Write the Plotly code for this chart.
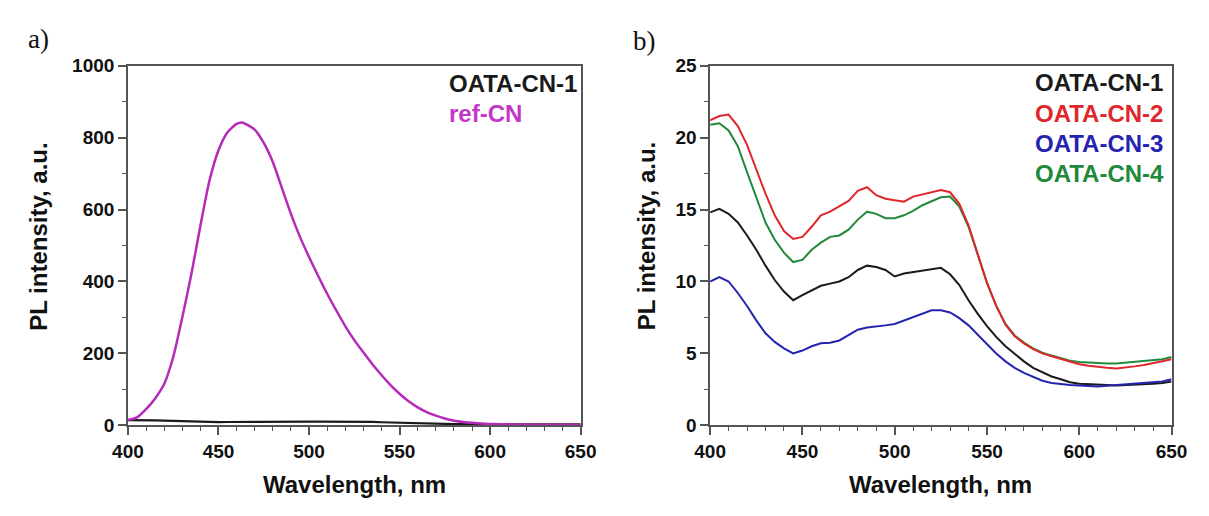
import plotly.graph_objects as go

# Wavelength grid (nm)
wavelength = list(range(400, 655, 5))

# ref-CN spectrum, sampled with an extra point at the 463 nm maximum
ref_cn_wl = [400, 405, 410, 415, 420, 425, 430, 435, 440, 445,
             450, 455, 460, 463, 470, 475, 480, 485, 490, 495,
             500, 505, 510, 515, 520, 525, 530, 535, 540, 545,
             550, 555, 560, 565, 570, 575, 580, 585, 590, 595,
             600, 605, 610, 615, 620, 625, 630, 635, 640, 645, 650]
ref_cn = [15, 22, 45, 75, 115, 190, 300, 420, 555, 680,
          765, 815, 838, 842, 822, 785, 732, 660, 588, 524,
          468, 416, 366, 320, 276, 237, 203, 170, 140, 112,
          88, 67, 50, 37, 27, 19, 13, 9.5, 7, 5,
          4, 3.2, 2.8, 2.5, 2.2, 2, 2, 2, 2, 2, 2]

# OATA-CN samples, a.u.
oata_cn_1 = [14.8, 15.05, 14.7, 14.1, 13.2, 12.2, 11.1, 10.1, 9.3, 8.7,
             9.05, 9.35, 9.7, 9.85, 10.0, 10.3, 10.8, 11.1, 11.0, 10.8,
             10.35, 10.55, 10.65, 10.7, 10.8, 10.95, 10.5, 9.75, 8.7, 7.75,
             6.9, 6.15, 5.5, 4.95, 4.45, 4.0, 3.7, 3.4, 3.2, 3.0,
             2.9, 2.85, 2.8, 2.8, 2.78, 2.8, 2.82, 2.85, 2.9, 2.95, 3.05]

oata_cn_2 = [21.2, 21.5, 21.6, 20.8, 19.5, 17.8, 16.1, 14.6, 13.5, 12.95,
             13.1, 13.8, 14.6, 14.85, 15.2, 15.6, 16.3, 16.55, 16.0, 15.75,
             15.65, 15.55, 15.9, 16.05, 16.2, 16.35, 16.2, 15.4, 13.9, 11.9,
             9.9, 8.3, 7.0, 6.2, 5.7, 5.3, 5.0, 4.8, 4.6, 4.4,
             4.25, 4.15, 4.05, 4.0, 3.95, 4.0, 4.1, 4.2, 4.3, 4.45, 4.6]

oata_cn_3 = [10.0, 10.3, 10.0, 9.2, 8.3, 7.3, 6.4, 5.8, 5.35, 5.0,
             5.2, 5.5, 5.7, 5.75, 5.9, 6.3, 6.65, 6.8, 6.85, 6.95,
             7.05, 7.3, 7.5, 7.8, 8.0, 8.0, 7.85, 7.45, 6.95, 6.3,
             5.65, 5.0, 4.45, 4.0, 3.65, 3.35, 3.1, 2.95, 2.85, 2.8,
             2.78, 2.75, 2.7, 2.75, 2.8, 2.82, 2.85, 2.9, 2.95, 3.05, 3.2]

oata_cn_4 = [20.9, 21.0, 20.5, 19.4, 17.6, 15.8, 14.1, 12.9, 12.0, 11.35,
             11.5, 12.2, 12.7, 13.1, 13.2, 13.6, 14.3, 14.85, 14.7, 14.4,
             14.4, 14.6, 14.9, 15.3, 15.6, 15.85, 15.9, 15.2, 13.8, 11.9,
             9.9, 8.3, 7.05, 6.25, 5.75, 5.35, 5.05, 4.85, 4.65, 4.5,
             4.4, 4.35, 4.3, 4.3, 4.3, 4.35, 4.4, 4.45, 4.5, 4.6, 4.75]

x_ticks = [400, 450, 500, 550, 600, 650]
y_ticks_a = [0, 200, 400, 600, 800, 1000]
y_ticks_b = [0, 5, 10, 15, 20, 25]

COL_BLACK = "#1a1a1a"
COL_MAGENTA = "#b52ab8"
COL_RED = "#e0262a"
COL_BLUE = "#2424b0"
COL_GREEN = "#21893a"

W, H = 1209, 516
SANS = "Liberation Sans, Arial, sans-serif"
SERIF = "Liberation Serif, Times New Roman, serif"

fig = go.Figure()

# panel a
fig.add_trace(go.Scatter(x=wavelength, y=oata_cn_1, mode="lines",
                         line=dict(color=COL_BLACK, width=2.2),
                         xaxis="x", yaxis="y", showlegend=False))
fig.add_trace(go.Scatter(x=ref_cn_wl, y=ref_cn, mode="lines",
                         line=dict(color=COL_MAGENTA, width=2.5,
                                   shape="spline", smoothing=0.6),
                         xaxis="x", yaxis="y", showlegend=False))

# panel b
for series, col in [(oata_cn_1, COL_BLACK), (oata_cn_3, COL_BLUE),
                    (oata_cn_4, COL_GREEN), (oata_cn_2, COL_RED)]:
    fig.add_trace(go.Scatter(x=wavelength, y=series, mode="lines",
                             line=dict(color=col, width=2),
                             xaxis="x2", yaxis="y2", showlegend=False))

# plot-area geometry in pixels
ax_a = (115, 580)
ax_b = (713, 1187)
top, bottom = 58, 433
ydom = [(H - bottom) / H, (H - top) / H]

tick_font = dict(family=SANS, size=19, color="#111", weight="bold")
frame = dict(showline=True, mirror=True, linecolor="#555", linewidth=1.5,
             showgrid=False, zeroline=False, ticks="outside", ticklen=8,
             tickwidth=1.5, tickcolor="#555", tickfont=tick_font)


def minor_ticks(step, start):
    return dict(ticks="outside", ticklen=4, tickwidth=1.2, tickcolor="#555",
                dtick=step, tick0=start, showgrid=False)


def xax(dom, anchor):
    return dict(frame, domain=[dom[0] / W, dom[1] / W], range=[400, 650],
                tickvals=x_ticks, minor=minor_ticks(10, 400), anchor=anchor)


fig.update_layout(
    width=W, height=H,
    margin=dict(l=0, r=0, t=0, b=0),
    paper_bgcolor="white", plot_bgcolor="white",
    xaxis=xax(ax_a, "y"),
    yaxis=dict(frame, domain=ydom, range=[0, 1000], tickvals=y_ticks_a,
               anchor="x", minor=minor_ticks(100, 0)),
    xaxis2=xax(ax_b, "y2"),
    yaxis2=dict(frame, domain=ydom, range=[0, 25], tickvals=y_ticks_b,
                anchor="x2", minor=minor_ticks(2.5, 0)),
)


def ann(text, x, y, size, color="#111", family=SANS, weight="bold",
        xanchor="center", angle=0):
    fig.add_annotation(text=text, x=x / W, y=1 - y / H, xref="paper", yref="paper",
                       showarrow=False, xanchor=xanchor, yanchor="middle",
                       textangle=angle,
                       font=dict(family=family, size=size, color=color, weight=weight))


# panel letters
ann("a)", 10, 30, 27, family=SERIF, weight="normal", xanchor="left")
ann("b)", 632, 32, 27, family=SERIF, weight="normal", xanchor="left")

# axis titles
for (x0, x1), ycx in [(ax_a, 23), (ax_b, 648)]:
    ann("Wavelength, nm", (x0 + x1) / 2, 495, 24)
    ann("PL intensity, a.u.", ycx, 236, 24, angle=-90)

# series labels
ann("OATA-CN-1", 443, 77, 24, color=COL_BLACK, xanchor="left")
ann("ref-CN", 443, 108, 24, color="#c436c8", xanchor="left")
for i, (name, col) in enumerate([("OATA-CN-1", COL_BLACK), ("OATA-CN-2", COL_RED),
                                 ("OATA-CN-3", COL_BLUE), ("OATA-CN-4", COL_GREEN)]):
    ann(name, 1045, 76 + i * 31.5, 24, color=col, xanchor="left")

fig.write_html("out.html")
